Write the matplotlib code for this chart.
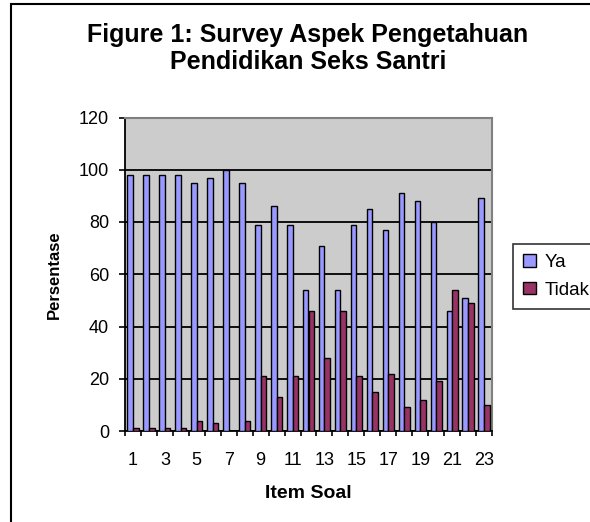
import matplotlib
matplotlib.use("Agg")
import matplotlib.pyplot as plt
import numpy as np
from matplotlib.patches import Rectangle
from matplotlib.ticker import FixedLocator

plt.rcParams['font.family'] = ['Liberation Sans', 'DejaVu Sans']

items = list(range(1, 24))
ya = [98, 98, 98, 98, 95, 97, 100, 95, 79, 86, 79, 54, 71, 54, 79, 85, 77, 91, 88, 80, 46, 51, 89]
tidak = [1, 1, 1, 1, 4, 3, 0, 4, 21, 13, 21, 46, 28, 46, 21, 15, 22, 9, 12, 19, 54, 49, 10]
tick_labels = [str(i) if i % 2 == 1 else "" for i in items]
yticks = [0, 20, 40, 60, 80, 100, 120]

W, H = 590, 522
fig = plt.figure(figsize=(W / 100, H / 100), dpi=100)
fig.patch.set_facecolor('white')

ax = fig.add_axes([125 / W, 1 - 431 / H, (492 - 125) / W, (431 - 117.5) / H])
ax.set_facecolor('#CCCCCC')

x = np.array(items, dtype=float)
bw = 0.35
ax.bar(x - bw / 2, ya, width=bw, color='#9999FF', edgecolor='black', linewidth=1.0, label='Ya', zorder=3)
ax.bar(x + bw / 2, tidak, width=bw, color='#993366', edgecolor='black', linewidth=1.0, label='Tidak', zorder=3)

ax.set_xlim(0.5, 23.5)
ax.set_ylim(0, 120)
ax.set_yticks(yticks)
ax.yaxis.grid(True, color='black', linewidth=1.3, zorder=1)
ax.set_axisbelow(True)

ax.set_xticks(x)
ax.set_xticklabels(tick_labels, fontsize=13)
ax.xaxis.set_minor_locator(FixedLocator(np.arange(0.5, 24.0, 1.0)))
ax.tick_params(axis='x', which='major', length=0, pad=15)
ax.tick_params(axis='x', which='minor', length=3.6, width=1.2, direction='out', color='black')
ax.tick_params(axis='y', which='major', length=4, width=1.2, direction='out', labelsize=13, pad=7.5)

for s in ['top', 'right']:
    ax.spines[s].set_color('#808080')
    ax.spines[s].set_linewidth(1.5)
for s in ['left', 'bottom']:
    ax.spines[s].set_color('black')
    ax.spines[s].set_linewidth(1.3)

ax.set_xlabel('Item Soal', fontsize=14, fontweight='bold', labelpad=12)
ax.set_ylabel('Persentase', fontsize=12, fontweight='bold', labelpad=12)

fig.text(308 / W, 1 - 48.5 / H, 'Figure 1: Survey Aspek Pengetahuan\nPendidikan Seks Santri',
         ha='center', va='center', fontsize=18, fontweight='bold', linespacing=1.12)

leg = fig.legend(loc='upper left', bbox_to_anchor=(513 / W, 1 - 244 / H), frameon=True,
                 fancybox=False, edgecolor='black', fontsize=13.5, handlelength=0.65,
                 handleheight=0.65, handletextpad=0.5, borderpad=0.55, labelspacing=0.55,
                 borderaxespad=0)
leg.get_frame().set_linewidth(1.2)

fig.add_artist(Rectangle((11 / W, -0.05), 1.2, 1 - 4 / H + 0.05, transform=fig.transFigure,
                         fill=False, edgecolor='black', linewidth=1.5))

fig.savefig('out.png', dpi=100)
